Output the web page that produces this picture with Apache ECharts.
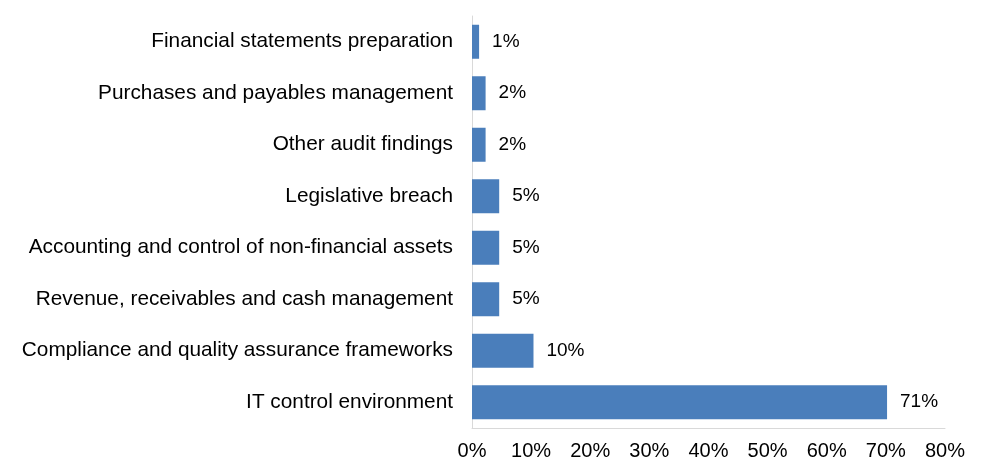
<!DOCTYPE html>
<html><head><meta charset="utf-8">
<script src="https://cdn.jsdelivr.net/npm/echarts@6/dist/echarts.min.js"></script>
<style>html,body{margin:0;padding:0;background:#fff}#c{width:990px;height:475px}</style>
</head><body><div id="c"></div>
<script>
const categories = ["IT control environment","Compliance and quality assurance frameworks","Revenue, receivables and cash management","Accounting and control of non-financial assets","Legislative breach","Other audit findings","Purchases and payables management","Financial statements preparation"];
const values = [70.2, 10.4, 4.6, 4.6, 4.6, 2.3, 2.3, 1.2];
const valueLabels = ["71%","10%","5%","5%","5%","2%","2%","1%"];
const xTicks = [0,10,20,30,40,50,60,70,80];
const chart = echarts.init(document.getElementById('c'));
chart.setOption({
  animation:false,
  textStyle:{fontFamily:'Liberation Sans, Arial, sans-serif'},
  grid:{left:472,right:45,top:16,bottom:47},
  xAxis:{type:'value',min:0,max:80,interval:10,
    axisLine:{show:true,lineStyle:{color:'#d9d9d9',width:1}},
    axisTick:{show:false},splitLine:{show:false},
    axisLabel:{formatter:v=>v+'%',fontSize:20,color:'#000',margin:13}},
  yAxis:{type:'category',data:categories,
    axisLine:{show:true,lineStyle:{color:'#d9d9d9',width:1}},
    axisTick:{show:false},
    axisLabel:{fontSize:20.8,color:'#000',margin:19,padding:[3,0,0,0]}},
  series:[{type:'bar',data:values,barWidth:34,itemStyle:{color:'#4a7ebb'},
    label:{show:true,position:'right',distance:13,fontSize:19,color:'#000',padding:[3,0,0,0],
      formatter:p=>valueLabels[p.dataIndex]}}]
});
</script></body></html>
